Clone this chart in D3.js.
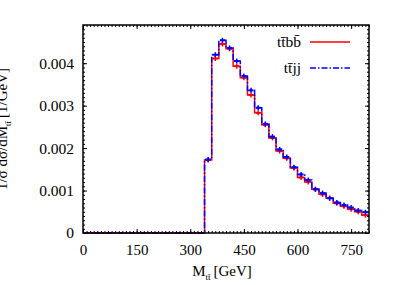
<!DOCTYPE html>
<html>
<head>
<meta charset="utf-8">
<script src="https://cdn.jsdelivr.net/npm/d3@7"></script>
<style>
  body { margin: 0; background: #fff; }
  svg text { font-family: "Liberation Serif", "DejaVu Serif", serif; }
</style>
</head>
<body>
<script>
// bin lower edges (GeV), 20 GeV wide
var binLo = [340,360,380,400,420,440,460,480,500,520,540,560,580,600,620,640,660,680,700,720,740,760,780];
var binWidth = 20;

var ttbb = [0.00172,0.00411,0.00445,0.00434,0.00393,0.00366,0.00325,0.00283,0.00255,0.00224,0.00193,0.00176,0.00153,0.00131,0.00120,0.00103,0.00091,0.00082,0.00070,0.00063,0.00056,0.00050,0.00042];
var ttjj = [0.00173,0.00420,0.00454,0.00436,0.00405,0.00370,0.00336,0.00295,0.00257,0.00227,0.00197,0.00179,0.00155,0.00138,0.00125,0.00103,0.00094,0.00082,0.00072,0.00066,0.00060,0.00053,0.00049];

var xTicks = [0,150,300,450,600,750];
var yTicks = [0,0.001,0.002,0.003,0.004];
var yTickLabels = ["0","0.001","0.002","0.003","0.004"];

var width = 407, height = 285;
var margin = {left:83, right:38, top:25, bottom:52};

var svg = d3.select("body").append("svg").attr("width",width).attr("height",height);

var x = d3.scaleLinear().domain([0,800]).range([margin.left, width-margin.right]);
var y = d3.scaleLinear().domain([0,0.0049]).range([height-margin.bottom, margin.top]);

var fontSize = "15px";

// minor ticks on all sides
var xMinor = d3.range(0,801,10);
var yMinor = d3.range(0,0.00491,0.0001);

function tickGroup(axis, tx, ty){
  var g = svg.append("g").attr("transform","translate("+tx+","+ty+")").call(axis);
  g.select(".domain").remove();
  g.selectAll("line").attr("stroke","#000").attr("stroke-width",1);
  return g;
}
tickGroup(d3.axisBottom(x).tickValues(xMinor).tickSize(-2).tickFormat(""), 0, y(0));
tickGroup(d3.axisTop(x).tickValues(xMinor).tickSize(-2).tickFormat(""), 0, y.range()[1]);
tickGroup(d3.axisLeft(y).tickValues(yMinor).tickSize(-2).tickFormat(""), x.range()[0], 0);
tickGroup(d3.axisRight(y).tickValues(yMinor).tickSize(-2).tickFormat(""), x.range()[1], 0);

// major ticks + labels
var xAxis = tickGroup(d3.axisBottom(x).tickValues(xTicks).tickSize(-4).tickPadding(11), 0, y(0));
xAxis.selectAll("text").attr("font-size",fontSize).attr("fill","#000").attr("font-family","Liberation Serif");
tickGroup(d3.axisTop(x).tickValues(xTicks).tickSize(-4).tickFormat(""), 0, y.range()[1]);
var yAxis = tickGroup(d3.axisLeft(y).tickValues(yTicks).tickSize(-4)
  .tickFormat(function(d,i){ return yTickLabels[i]; }).tickPadding(9), x.range()[0], 0);
yAxis.selectAll("text").attr("font-size","15.5px").attr("fill","#000").attr("font-family","Liberation Serif");
tickGroup(d3.axisRight(y).tickValues(yTicks).tickSize(-4).tickFormat(""), x.range()[1], 0);

// histograms as steps
function stepPts(vals){
  var pts = [[0,0],[binLo[0],0]];
  vals.forEach(function(v,i){
    pts.push([binLo[i],v]);
    pts.push([binLo[i]+binWidth,v]);
  });
  return pts;
}
var line = d3.line().x(function(d){ return x(d[0]); }).y(function(d){ return y(d[1]); });

var plot = svg.append("g");
function drawHist(vals, color, dash){
  plot.append("path").attr("d",line(stepPts(vals)))
    .attr("fill","none").attr("stroke",color).attr("stroke-width",1.5)
    .attr("stroke-dasharray",dash);
  plot.selectAll(null).data(vals).enter().append("line")
    .attr("x1",function(d,i){ return x(binLo[i]+binWidth/2); })
    .attr("x2",function(d,i){ return x(binLo[i]+binWidth/2); })
    .attr("y1",function(d){ return y(d)-2.5; })
    .attr("y2",function(d){ return y(d)+2.5; })
    .attr("stroke",color).attr("stroke-width",1.5);
  plot.selectAll(null).data(vals).enter().append("line")
    .attr("x1",function(d,i){ return x(binLo[i]+binWidth/2)-2.5; })
    .attr("x2",function(d,i){ return x(binLo[i]+binWidth/2)+2.5; })
    .attr("y1",function(d){ return y(d); })
    .attr("y2",function(d){ return y(d); })
    .attr("stroke",color).attr("stroke-width",2);
}
drawHist(ttbb, "#ff0000", null);
drawHist(ttjj, "#0000ff", "6,2,1.5,2");

// frame
svg.append("rect")
  .attr("x",x.range()[0]).attr("y",y.range()[1])
  .attr("width",x.range()[1]-x.range()[0]).attr("height",y.range()[0]-y.range()[1])
  .attr("fill","none").attr("stroke","#000").attr("stroke-width",1.5);

// legend
var legend = svg.append("g");
var legItems = [
  {label:"tt\u0304bb\u0304", color:"#ff0000", dash:null, y:42},
  {label:"tt\u0304jj", color:"#0000ff", dash:"6,2,1.5,2", y:68}
];
legItems.forEach(function(d){
  legend.append("text").attr("x",301).attr("y",d.y+5).attr("text-anchor","end")
    .attr("font-size","15.5px").text(d.label);
  legend.append("line").attr("x1",310).attr("x2",350).attr("y1",d.y).attr("y2",d.y)
    .attr("stroke",d.color).attr("stroke-width",1.5).attr("stroke-dasharray",d.dash);
});

// axis labels
var xl = svg.append("text").attr("x",(x.range()[0]+x.range()[1])/2 - 4).attr("y",276)
  .attr("text-anchor","middle").attr("font-size",fontSize);
xl.append("tspan").text("M");
xl.append("tspan").attr("font-size","9px").attr("dy",4).text("tt\u0304");
xl.append("tspan").attr("dy",-4).attr("dx",3).text("[GeV]");

var yl = svg.append("text").attr("transform","translate(7,129) rotate(-90)")
  .attr("text-anchor","middle").attr("font-size",fontSize);
yl.append("tspan").text("1/\u03c3 d\u03c3/dM");
yl.append("tspan").attr("font-size","9px").attr("dy",4).text("tt\u0304");
yl.append("tspan").attr("dy",-4).attr("dx",3).text("[1/GeV]");
</script>
</body>
</html>
